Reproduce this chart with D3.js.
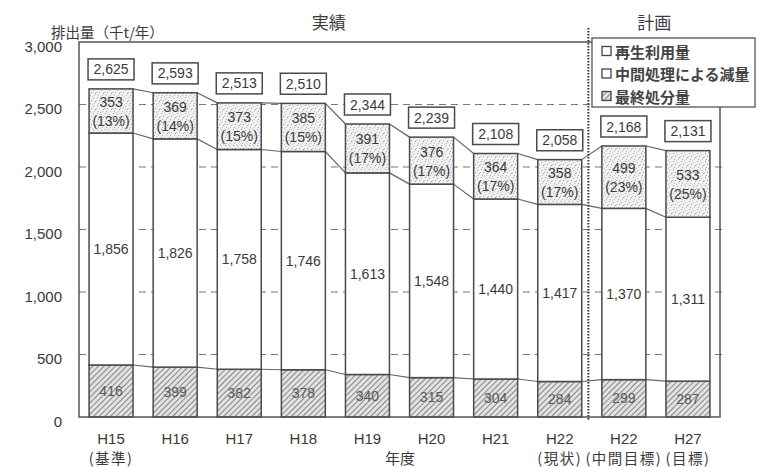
<!DOCTYPE html>
<html>
<head>
<meta charset="utf-8">
<script src="https://cdn.jsdelivr.net/npm/d3@7"></script>
<style>
  html, body { margin: 0; padding: 0; background: #fff; }
  svg { display: block; }
  text { font-family: "Liberation Sans", Arial, "Noto Sans CJK JP", sans-serif; fill: #3a3a3a; }
  .jp { font-family: "Noto Sans CJK JP", "Noto Sans", sans-serif; }
</style>
</head>
<body>
<svg id="chart" width="763" height="467"></svg>
<script>
// ---- data ----
const categories = ["H15", "H16", "H17", "H18", "H19", "H20", "H21", "H22", "H22b", "H27"];
const catLabels   = ["H15", "H16", "H17", "H18", "H19", "H20", "H21", "H22", "H22", "H27"];
const catSubLabels = ["(基準)", "", "", "", "", "", "", "(現状)", "(中間目標)", "(目標)"];
const finalDisposal = [416, 399, 382, 378, 340, 315, 304, 284, 299, 287];   // 最終処分量
const intermediate  = [1856, 1826, 1758, 1746, 1613, 1548, 1440, 1417, 1370, 1311]; // 中間処理による減量
const recycled      = [353, 369, 373, 385, 391, 376, 364, 358, 499, 533];   // 再生利用量
const totals        = [2625, 2593, 2513, 2510, 2344, 2239, 2108, 2058, 2168, 2131];
const yTicks = [0, 500, 1000, 1500, 2000, 2500, 3000];
const legendLabels = ["再生利用量", "中間処理による減量", "最終処分量"];
const yTitle = "排出量（千t/年）";
const xTitle = "年度";
const periodLabels = ["実績", "計画"];

// ---- layout ----
const svg = d3.select("#chart");
const L = 79, R = 720, T = 42, B = 417;
const fmt = d3.format(",");

const x = d3.scaleBand().domain(categories).range([L, R]).paddingInner(0.314).paddingOuter(0.157);
const y = d3.scaleLinear().domain([0, 3000]).range([B, T]);
const bw = x.bandwidth();

// patterns
const defs = svg.append("defs");
const hatch = defs.append("pattern").attr("id", "hatch").attr("patternUnits", "userSpaceOnUse")
  .attr("width", 4).attr("height", 4).attr("patternTransform", "rotate(45)");
hatch.append("rect").attr("width", 4).attr("height", 4).attr("fill", "#e2e2e2");
hatch.append("line").attr("x1", 0).attr("y1", 0).attr("x2", 0).attr("y2", 4)
  .attr("stroke", "#6f6f6f").attr("stroke-width", 1.6);

const stip = defs.append("pattern").attr("id", "stipple").attr("patternUnits", "userSpaceOnUse")
  .attr("width", 8).attr("height", 8);
stip.append("rect").attr("width", 8).attr("height", 8).attr("fill", "#f1f1f1");
[[1,1,"#9a9a9a"],[5,2,"#b5b5b5"],[3,4,"#a5a5a5"],[7,5,"#999"],[2,7,"#b0b0b0"],[6,7,"#c0c0c0"],[4,0,"#c5c5c5"],[0,4,"#bbb"]]
  .forEach(([cx, cy, c]) => stip.append("rect").attr("x", cx).attr("y", cy).attr("width", 1).attr("height", 1).attr("fill", c));

// gridlines (dashed)
svg.append("g").selectAll("line").data(yTicks.filter(d => d > 0 && d < 3000)).join("line")
  .attr("x1", L).attr("x2", R + 3).attr("y1", d => y(d)).attr("y2", d => y(d))
  .attr("stroke", "#777").attr("stroke-width", 1.2).attr("stroke-dasharray", "7,5");

// stacked data
const rows = categories.map((c, i) => ({ cat: c, f: finalDisposal[i], m: intermediate[i], r: recycled[i], t: totals[i] }));
const stack = d3.stack().keys(["f", "m", "r"])(rows);
const fills = { f: "url(#hatch)", m: "#ffffff", r: "url(#stipple)" };

// connecting lines between bars
[0, 1, 2].forEach(k => {
  const layer = stack[k];
  svg.append("g").selectAll("line").data(layer.slice(0, -1)).join("line")
    .attr("x1", (d, i) => x(categories[i]) + bw).attr("y1", d => y(d[1]))
    .attr("x2", (d, i) => x(categories[i + 1])).attr("y2", (d, i) => y(layer[i + 1][1]))
    .attr("stroke", "#666").attr("stroke-width", 1.2);
});

// bars
stack.forEach(layer => {
  svg.append("g").selectAll("rect").data(layer).join("rect")
    .attr("x", (d, i) => x(categories[i])).attr("width", bw)
    .attr("y", d => y(d[1])).attr("height", d => y(d[0]) - y(d[1]))
    .attr("fill", fills[layer.key]).attr("stroke", "#4a4a4a").attr("stroke-width", 1.5);
});

// segment labels
svg.append("g").selectAll("text").data(stack[0]).join("text")
  .attr("x", (d, i) => x(categories[i]) + bw / 2).attr("y", d => (y(d[0]) + y(d[1])) / 2)
  .attr("text-anchor", "middle").attr("dominant-baseline", "central")
  .style("font-size", "14px").style("fill", "#5a5a5a")
  .text((d, i) => fmt(finalDisposal[i]));

svg.append("g").selectAll("text").data(stack[1]).join("text")
  .attr("x", (d, i) => x(categories[i]) + bw / 2).attr("y", d => (y(d[0]) + y(d[1])) / 2)
  .attr("text-anchor", "middle").attr("dominant-baseline", "central")
  .style("font-size", "14px")
  .text((d, i) => fmt(intermediate[i]));

const rg = svg.append("g").selectAll("g").data(stack[2]).join("g")
  .attr("transform", (d, i) => `translate(${x(categories[i]) + bw / 2},${(y(d[0]) + y(d[1])) / 2})`);
rg.append("text").attr("y", -9).attr("text-anchor", "middle").attr("dominant-baseline", "central")
  .style("font-size", "14px").text((d, i) => fmt(recycled[i]));
rg.append("text").attr("y", 10).attr("text-anchor", "middle").attr("dominant-baseline", "central")
  .style("font-size", "14px").text((d, i) => `(${Math.round(recycled[i] / totals[i] * 100)}%)`);

// total label boxes
const tb = svg.append("g").selectAll("g").data(totals).join("g")
  .attr("transform", (d, i) => `translate(${x(categories[i]) + bw / 2},${y(d) - 9 - 10.5})`);
tb.append("rect").attr("x", -23).attr("y", -10.5).attr("width", 46).attr("height", 21)
  .attr("fill", "#fff").attr("stroke", "#4a4a4a").attr("stroke-width", 1.5);
tb.append("text").attr("text-anchor", "middle").attr("dominant-baseline", "central")
  .style("font-size", "14px").text(d => fmt(d));

// frame
svg.append("rect").attr("x", L).attr("y", T).attr("width", R - L).attr("height", B - T)
  .attr("fill", "none").attr("stroke", "#555").attr("stroke-width", 1.5);

// divider (dotted)
const divX = x(categories[7]) + bw + (x(categories[8]) - x(categories[7]) - bw) * 0.33;
svg.append("line").attr("x1", divX).attr("x2", divX).attr("y1", 28).attr("y2", 420)
  .attr("stroke", "#333").attr("stroke-width", 2).attr("stroke-dasharray", "1.5,1.5");

// y axis
const yAxis = svg.append("g").attr("transform", `translate(${L},0)`)
  .call(d3.axisLeft(y).tickValues(yTicks).tickFormat(fmt).tickSize(0).tickPadding(17));
yAxis.select(".domain").remove();
yAxis.selectAll("text").attr("dy", "0.62em").style("font-size", "15px").style("fill", "#3a3a3a")
  .style("font-family", "'Liberation Sans', Arial, sans-serif");

// x axis
const xAxis = svg.append("g").attr("transform", `translate(0,${B})`)
  .call(d3.axisBottom(x).tickSize(0).tickPadding(16).tickFormat((d, i) => catLabels[i]));
xAxis.select(".domain").remove();
xAxis.selectAll("text").style("font-size", "15px").style("fill", "#3a3a3a")
  .style("font-family", "'Liberation Sans', Arial, sans-serif");

svg.append("g").selectAll("text").data(categories).join("text")
  .attr("class", "jp")
  .attr("x", d => x(d) + bw / 2).attr("y", 457)
  .attr("text-anchor", "middle").attr("dominant-baseline", "central")
  .style("font-size", "14.5px").style("letter-spacing", "1.5px")
  .text((d, i) => catSubLabels[i]);

// axis titles
svg.append("text").attr("class", "jp").attr("x", 51).attr("y", 31)
  .attr("dominant-baseline", "central").style("font-size", "14.5px").text(yTitle);
svg.append("text").attr("class", "jp").attr("x", 400).attr("y", 457)
  .attr("text-anchor", "middle").attr("dominant-baseline", "central").style("font-size", "15px").text(xTitle);

// period labels
svg.append("text").attr("class", "jp").attr("x", (L + divX) / 2 - 5).attr("y", 21)
  .attr("text-anchor", "middle").attr("dominant-baseline", "central").style("font-size", "17px").text(periodLabels[0]);
svg.append("text").attr("class", "jp").attr("x", (divX + R) / 2).attr("y", 21)
  .attr("text-anchor", "middle").attr("dominant-baseline", "central").style("font-size", "17px").text(periodLabels[1]);

// legend
const lg = svg.append("g").attr("transform", "translate(592,38)");
lg.append("rect").attr("width", 163).attr("height", 69).attr("fill", "#fff")
  .attr("stroke", "#555").attr("stroke-width", 1.3);
const legFills = ["#fff", "#fff", "url(#hatch)"];
legendLabels.forEach((lab, i) => {
  const gy = 13 + i * 22.5;
  lg.append("rect").attr("x", 10).attr("y", gy - 4.5).attr("width", 9).attr("height", 9)
    .attr("fill", legFills[i]).attr("stroke", "#444").attr("stroke-width", 1.3);
  lg.append("text").attr("class", "jp").attr("x", 23).attr("y", gy)
    .attr("dominant-baseline", "central").style("font-size", "15px").style("font-weight", "bold")
    .style("fill", "#444").text(lab);
});
</script>
</body>
</html>
